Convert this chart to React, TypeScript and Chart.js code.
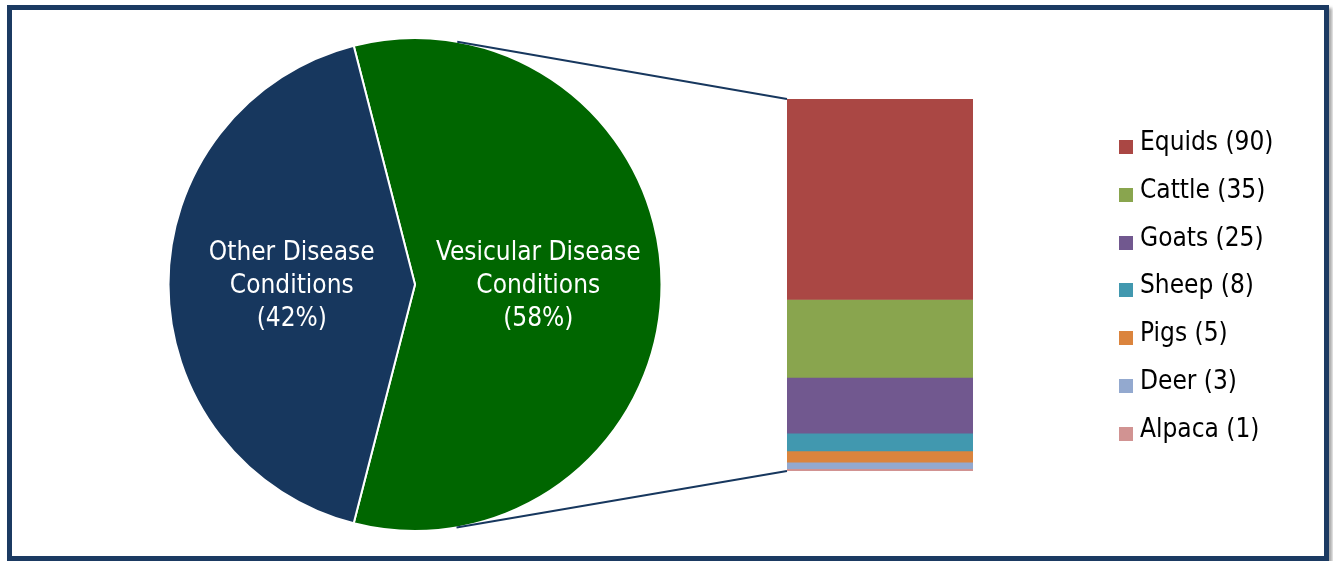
import React, { useEffect, useRef } from "react";
import { Chart, registerables } from "chart.js";

Chart.register(...registerables);

// ---- Data ----
const pieCategories = ["Vesicular Disease Conditions", "Other Disease Conditions"];
const pieLabelLines = [["Vesicular Disease", "Conditions"], ["Other Disease", "Conditions"]];
const pieValues = [58, 42];
const pieColors = ["#006600", "#17375E"];

const species = ["Equids", "Cattle", "Goats", "Sheep", "Pigs", "Deer", "Alpaca"];
const speciesCounts = [90, 35, 25, 8, 5, 3, 1];
const speciesColors = ["#AA4744", "#89A54E", "#71588F", "#4198AF", "#DB843D", "#93A9CF", "#D19392"];

const W = 1333;
const H = 561;
const FONT = "'DejaVu Sans Condensed', 'DejaVu Sans', sans-serif";

export default function App() {
  const pieRef = useRef<HTMLCanvasElement | null>(null);
  const barRef = useRef<HTMLCanvasElement | null>(null);

  useEffect(() => {
    if (!pieRef.current || !barRef.current) return;
    const pieTotal = pieValues.reduce((a, b) => a + b, 0);
    const rotation = 90 - (pieValues[0] / pieTotal) * 180;

    const pieLabelPlugin = {
      id: "pieLabels",
      afterDatasetsDraw(chart: any) {
        const ctx = chart.ctx;
        const meta = chart.getDatasetMeta(0);
        ctx.save();
        ctx.fillStyle = "#ffffff";
        ctx.font = `26px ${FONT}`;
        ctx.textAlign = "center";
        ctx.textBaseline = "middle";
        meta.data.forEach((arc: any, i: number) => {
          const p = arc.getCenterPoint();
          const lines = [...pieLabelLines[i], `(${pieValues[i]}%)`];
          const lh = 33;
          lines.forEach((l, j) => {
            ctx.fillText(l, p.x, p.y + 2 + (j - (lines.length - 1) / 2) * lh);
          });
        });
        ctx.restore();
      },
    };

    const pieChart = new Chart(pieRef.current, {
      type: "pie",
      data: {
        labels: pieCategories,
        datasets: [
          {
            data: pieValues,
            backgroundColor: pieColors,
            borderColor: "#ffffff",
            borderWidth: 2,
            borderJoinStyle: "miter",
          } as any,
        ],
      },
      options: {
        responsive: false,
        animation: false,
        rotation,
        layout: { padding: { left: 167, right: W - 663, top: 37, bottom: H - 532 } },
        plugins: { legend: { display: false }, tooltip: { enabled: false } },
      },
      plugins: [pieLabelPlugin],
    });

    const connectorPlugin = {
      id: "connectors",
      afterDatasetsDraw(chart: any) {
        const arc: any = pieChart.getDatasetMeta(0).data[0];
        if (!arc) return;
        const cx = arc.x;
        const cy = arc.y;
        const r = arc.outerRadius;
        const first: any = chart.getDatasetMeta(0).data[0];
        const last: any = chart.getDatasetMeta(species.length - 1).data[0];
        const left = first.x - first.width / 2;
        const top = Math.min(first.y, first.base);
        const bottom = Math.max(last.y, last.base);
        const tangent = (px: number, py: number, upper: boolean) => {
          const dx = px - cx;
          const dy = py - cy;
          const d = Math.hypot(dx, dy);
          const base = Math.atan2(dy, dx);
          const off = Math.acos(r / d);
          const a = upper ? base - off : base + off;
          return [cx + r * Math.cos(a), cy + r * Math.sin(a)];
        };
        const ctx = chart.ctx;
        ctx.save();
        ctx.strokeStyle = "#17375E";
        ctx.lineWidth = 2;
        const t1 = tangent(left, top, true);
        const t2 = tangent(left, bottom, false);
        ctx.beginPath();
        ctx.moveTo(t1[0], t1[1]);
        ctx.lineTo(left, top);
        ctx.moveTo(t2[0], t2[1]);
        ctx.lineTo(left, bottom);
        ctx.stroke();
        ctx.restore();
      },
    };

    const total = speciesCounts.reduce((a, b) => a + b, 0);
    const barChart = new Chart(barRef.current, {
      type: "bar",
      data: {
        labels: [""],
        datasets: species.map((s, i) => ({
          label: `${s} (${speciesCounts[i]})`,
          data: [speciesCounts[i]],
          backgroundColor: speciesColors[i],
          borderWidth: 0,
          barPercentage: 1,
          categoryPercentage: 1,
          stack: "s",
        })),
      },
      options: {
        responsive: false,
        animation: false,
        layout: { padding: { left: 787, right: W - 973, top: 99, bottom: H - 471 } },
        scales: {
          x: { display: false, stacked: true },
          y: { display: false, stacked: true, reverse: true, min: 0, max: total },
        },
        plugins: { legend: { display: false }, tooltip: { enabled: false } },
      },
      plugins: [connectorPlugin],
    });

    return () => {
      barChart.destroy();
      pieChart.destroy();
    };
  }, []);

  return (
    <div style={{ position: "absolute", left: 0, top: 0, width: W, height: H, background: "#fff", overflow: "hidden" }}>
      <div
        style={{
          position: "absolute",
          left: 7,
          top: 5,
          width: 1322,
          height: 556,
          boxSizing: "border-box",
          border: "5px solid #1B3A62",
          boxShadow: "3px 3px 3px rgba(0,0,0,0.35)",
        }}
      />
      <canvas ref={pieRef} width={W} height={H} style={{ position: "absolute", left: 0, top: 0 }} />
      <canvas ref={barRef} width={W} height={H} style={{ position: "absolute", left: 0, top: 0 }} />
      {species.map((s, i) => (
        <div key={s} style={{ position: "absolute", left: 1119, top: 126 + i * 47.8, height: 30, display: "flex", alignItems: "flex-start" }}>
          <div style={{ width: 14, height: 14, marginTop: 14, background: speciesColors[i] }} />
          <div style={{ marginLeft: 7, font: `26px ${FONT}`, lineHeight: "30px", color: "#000", whiteSpace: "nowrap" }}>
            {`${s} (${speciesCounts[i]})`}
          </div>
        </div>
      ))}
    </div>
  );
}
